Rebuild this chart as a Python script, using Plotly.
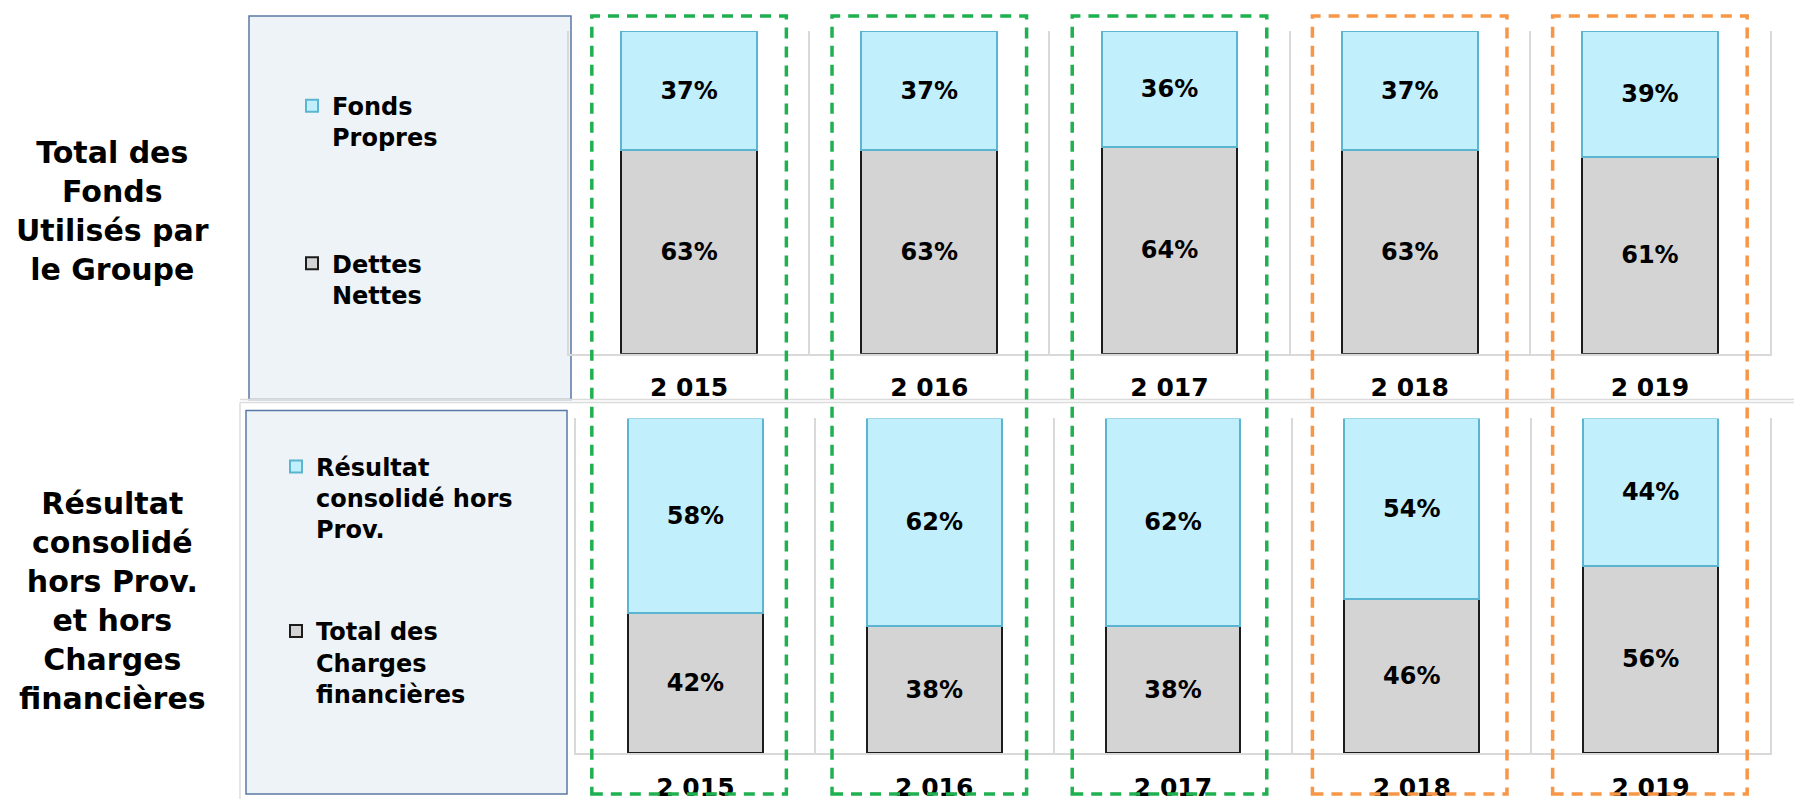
import plotly.graph_objects as go

W, H = 1794, 802

# ---------------- data ----------------
years = ["2015", "2016", "2017", "2018", "2019"]
year_labels = ["2 015", "2 016", "2 017", "2 018", "2 019"]

# top panel: Total des Fonds Utilisés par le Groupe
fonds_propres = [37, 37, 36, 37, 39]
dettes_nettes = [63, 63, 64, 63, 61]

# bottom panel: Résultat consolidé hors Prov. et hors Charges financières
resultat_consolide = [58, 62, 62, 54, 44]
charges_financieres = [42, 38, 38, 46, 56]

top_title = "Total des<br>Fonds<br>Utilisés par<br>le Groupe"
bottom_title = "Résultat<br>consolidé<br>hors Prov.<br>et hors<br>Charges<br>financières"

top_names = ["Fonds<br>Propres", "Dettes<br>Nettes"]
bottom_names = ["Résultat<br>consolidé hors<br>Prov.", "Total des<br>Charges<br>financières"]

# highlight frame per year (green = 2015-2017, orange = 2018-2019)
year_group = ["past", "past", "past", "recent", "recent"]

# ---------------- style ----------------
BLUE_FILL = "#c2effc"
BLUE_LINE = "#5ab6d0"
GRAY_FILL = "#d4d4d4"
GRAY_LINE = "#1c1c1c"
GRID = "#d9d9d9"
FRAME_COLORS = {"past": "#1fb050", "recent": "#f79646"}
FONT = "DejaVu Sans"


def fx(px):
    return px / W


def fy(py):
    return 1 - py / H


fig = go.Figure()

bar_font = dict(family=FONT, size=24, color="black", weight="bold")


def add_bar(x, y, name, legend, rank, fill, line, xa, ya):
    fig.add_trace(go.Bar(
        x=x, y=y, name=name, legend=legend, legendgroup=name, legendrank=rank,
        marker=dict(color=fill, line=dict(color=line, width=2)),
        texttemplate="%{y:.0f}%", textposition="inside", insidetextanchor="middle",
        textangle=0, textfont=bar_font, xaxis=xa, yaxis=ya, hoverinfo="x+y+name"))


# top panel (gray bottom, blue top)
add_bar(years, dettes_nettes, top_names[1], "legend", 2, GRAY_FILL, GRAY_LINE, "x", "y")
add_bar(years, fonds_propres, top_names[0], "legend", 1, BLUE_FILL, BLUE_LINE, "x", "y")
# bottom panel
add_bar(years, charges_financieres, bottom_names[1], "legend2", 2, GRAY_FILL, GRAY_LINE, "x2", "y2")
add_bar(years, resultat_consolide, bottom_names[0], "legend2", 1, BLUE_FILL, BLUE_LINE, "x2", "y2")

xaxis_common = dict(
    type="category", categoryorder="array", categoryarray=years,
    tickmode="array", tickvals=years, ticktext=year_labels,
    range=[-0.5, 4.5], tickson="boundaries", ticks="",
    showgrid=True, gridcolor=GRID, gridwidth=1.5,
    showline=True, linecolor=GRID, linewidth=1.5,
    tickfont=dict(family=FONT, size=25, color="black", weight="bold"),
    ticklabelstandoff=11, fixedrange=True,
)
yaxis_common = dict(
    range=[0, 100], showgrid=False, zeroline=False, showticklabels=False,
    showline=True, mirror=True, linecolor=GRID, linewidth=1.5, ticks="",
    fixedrange=True,
)

legend_common = dict(
    xanchor="left", yanchor="top", bgcolor="rgba(0,0,0,0)",
    font=dict(family=FONT, size=24, color="black", weight="bold"),
    valign="top", traceorder="grouped", itemclick=False,
    itemdoubleclick=False,
)

shapes = []
# legend boxes
shapes.append(dict(type="rect", xref="paper", yref="paper",
                   x0=fx(249), x1=fx(571), y0=fy(401), y1=fy(16),
                   fillcolor="#eef3f8", line=dict(color="#5a78a3", width=1.5),
                   layer="below"))
shapes.append(dict(type="rect", xref="paper", yref="paper",
                   x0=fx(246), x1=fx(567), y0=fy(797), y1=fy(412),
                   fillcolor="#eef3f8", line=dict(color="#5a78a3", width=1.5),
                   layer="below"))
# frame lines between panels
for yy in (401, 404):
    shapes.append(dict(type="line", xref="paper", yref="paper",
                       x0=fx(240), x1=1, y0=fy(yy), y1=fy(yy),
                       line=dict(color="#dcdcdc", width=1.5), layer="below"))
shapes.append(dict(type="line", xref="paper", yref="paper",
                   x0=fx(240), x1=fx(240), y0=0, y1=fy(404),
                   line=dict(color="#dcdcdc", width=1.5), layer="below"))
# dashed highlight frames per year
for i, grp in enumerate(year_group):
    shapes.append(dict(type="rect", xref="x", yref="paper",
                       x0=i - 0.405, x1=i + 0.405, y0=fy(797), y1=fy(16),
                       line=dict(color=FRAME_COLORS[grp], width=3.5, dash="11px,8px"),
                       fillcolor="rgba(0,0,0,0)", layer="above"))

annotations = [
    dict(text=top_title, xref="paper", yref="paper", x=fx(112), y=fy(212),
         xanchor="center", yanchor="middle", showarrow=False, align="center",
         font=dict(family=FONT, size=30, color="black", weight="bold")),
    dict(text=bottom_title, xref="paper", yref="paper", x=fx(112), y=fy(603),
         xanchor="center", yanchor="middle", showarrow=False, align="center",
         font=dict(family=FONT, size=30, color="black", weight="bold")),
]

fig.update_layout(
    width=W, height=H, autosize=False,
    margin=dict(l=0, r=0, t=0, b=0),
    paper_bgcolor="white", plot_bgcolor="white",
    barmode="stack", bargap=0.435,
    showlegend=True,
    xaxis=dict(domain=[fx(569), fx(1770)], anchor="y", **xaxis_common),
    yaxis=dict(domain=[fy(355), fy(31)], anchor="x", **yaxis_common),
    xaxis2=dict(domain=[fx(576), fx(1770)], anchor="y2", **xaxis_common),
    yaxis2=dict(domain=[fy(756), fy(420)], anchor="x2", **yaxis_common),
    legend=dict(x=fx(292), y=fy(84), tracegroupgap=92, **legend_common),
    legend2=dict(x=fx(276), y=fy(446), tracegroupgap=68, **legend_common),
    shapes=shapes,
    annotations=annotations,
)

fig.write_html("out.html", config={"displayModeBar": False},
               post_script="document.body.style.margin='0';")
